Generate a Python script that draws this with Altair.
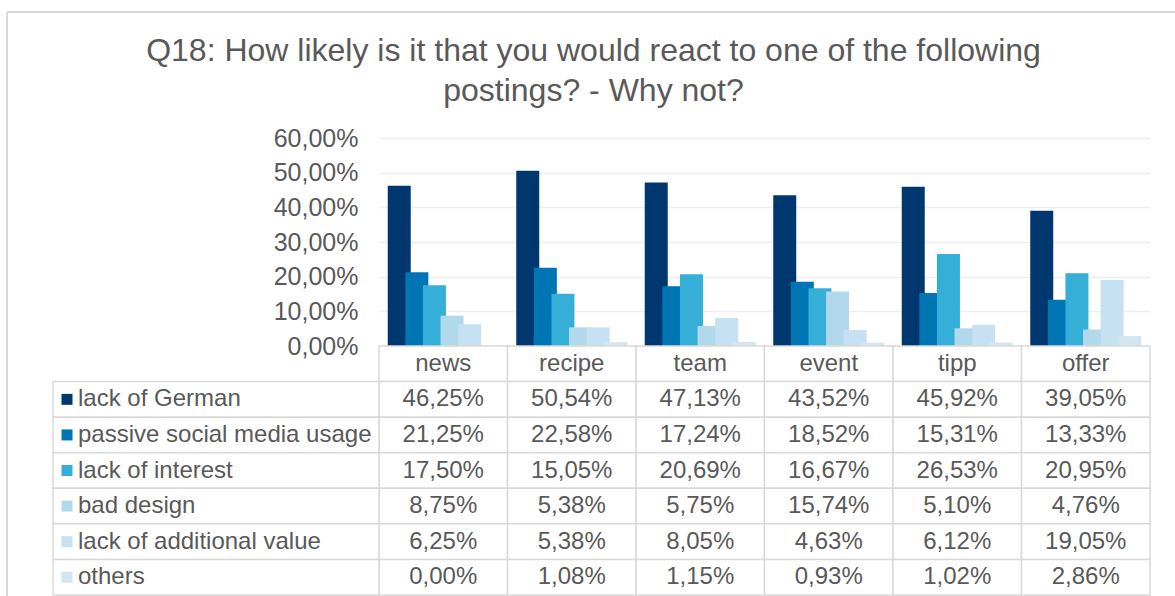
import altair as alt
import pandas as pd

categories = ["news", "recipe", "team", "event", "tipp", "offer"]
series = ["lack of German", "passive social media usage", "lack of interest",
          "bad design", "lack of additional value", "others"]
colors = ["#00376E", "#0075B4", "#35AED8", "#B2D8EC", "#C5E1F2", "#D3E5EE"]

v_lack_german = [46.25, 50.54, 47.13, 43.52, 45.92, 39.05]
v_passive = [21.25, 22.58, 17.24, 18.52, 15.31, 13.33]
v_interest = [17.50, 15.05, 20.69, 16.67, 26.53, 20.95]
v_design = [8.75, 5.38, 5.75, 15.74, 5.10, 4.76]
v_value = [6.25, 5.38, 8.05, 4.63, 6.12, 19.05]
v_others = [0.00, 1.08, 1.15, 0.93, 1.02, 2.86]
y_ticks = [0, 0.1, 0.2, 0.3, 0.4, 0.5, 0.6]

title_lines = ["Q18: How likely is it that you would react to one of the following",
               "postings? - Why not?"]

all_vals = [v_lack_german, v_passive, v_interest, v_design, v_value, v_others]
rows = ["header"] + series

recs = []
for s, vals in zip(series, all_vals):
    for c, v in zip(categories, vals):
        recs.append({"category": c, "series": s, "row": s, "value": v / 100.0,
                     "label": f"{v:.2f}".replace(".", ",") + "%"})
df = pd.DataFrame(recs)

cells = pd.DataFrame([{"category": c, "row": r} for r in rows for c in categories])
hdr = pd.DataFrame({"category": categories, "row": ["header"] * len(categories)})
leg = pd.DataFrame({"series": series, "row": series})

FONT = "Liberation Sans"
TXT = "#595959"
GRID = "#D9D9D9"
FS = 24

x_scale = alt.Scale(domain=categories, paddingInner=0, paddingOuter=0)
x_enc = alt.X("category:N", sort=categories, scale=x_scale, axis=None)
tbl_y = alt.Y("row:N", sort=rows,
              scale=alt.Scale(domain=rows, range=[208, 457], paddingInner=0, paddingOuter=0),
              axis=None)
color_enc = alt.Color("series:N", sort=series,
                      scale=alt.Scale(domain=series, range=colors), legend=None)

bars = alt.Chart(df).mark_bar(width=23).encode(
    x=x_enc,
    xOffset=alt.XOffset("series:N", sort=series,
                        scale=alt.Scale(domain=series, paddingInner=0, paddingOuter=0.65)),
    y=alt.Y("value:Q",
            scale=alt.Scale(domain=[0, 0.6], range=[208, 0], nice=False, zero=True),
            axis=alt.Axis(values=y_ticks,
                          labelExpr="replace(format(datum.value, '.2%'), '.', ',')",
                          grid=True, gridColor="#EDEDED", gridWidth=1.6,
                          domain=False, ticks=False, labelFontSize=25,
                          labelColor=TXT, labelFont=FONT, labelPadding=21, title=None)),
    color=color_enc,
)

cell_rects = alt.Chart(cells).mark_rect(fill="white", stroke=GRID, strokeWidth=1.5).encode(
    x=x_enc, y=tbl_y)

leg_rects = alt.Chart(leg).mark_rect(fill="white", stroke=GRID, strokeWidth=1.5).encode(
    x=alt.value(-326), x2=alt.value(0), y=tbl_y)

hdr_text = alt.Chart(hdr).mark_text(fontSize=FS, font=FONT, color=TXT, baseline="middle").encode(
    x=x_enc, y=tbl_y, text="category:N")

val_text = alt.Chart(df).mark_text(fontSize=FS, font=FONT, color=TXT, baseline="middle").encode(
    x=x_enc, y=tbl_y, text="label:N")

leg_sq = alt.Chart(leg).mark_square(size=121, opacity=1).encode(
    x=alt.value(-312), y=tbl_y, color=color_enc)

leg_text = alt.Chart(leg).mark_text(fontSize=FS, font=FONT, color=TXT, align="left",
                                    baseline="middle").encode(
    x=alt.value(-301), y=tbl_y, text="series:N")

border_left = alt.Chart(hdr).mark_rule(color=GRID, strokeWidth=1.5).encode(
    x=alt.value(-372), y=alt.value(-126), y2=alt.value(470))
border_top = alt.Chart(hdr).mark_rule(color=GRID, strokeWidth=1.5).encode(
    x=alt.value(-372), x2=alt.value(820), y=alt.value(-126))

chart = alt.layer(
    bars, cell_rects, leg_rects, hdr_text, val_text, leg_sq, leg_text, border_left, border_top
).resolve_scale(y="independent").properties(
    width=771, height=457,
    padding={"left": 379, "top": 138, "right": 25, "bottom": 1},
    autosize=alt.AutoSizeParams(type="none"),
    title=alt.TitleParams(title_lines, fontSize=32, color=TXT, font=FONT, fontWeight="normal",
                          anchor="middle", frame="group", dx=-171, offset=-97, lineHeight=40),
).configure_view(stroke=None)

chart.save("out.html", embed_options={"renderer": "svg", "actions": False})
